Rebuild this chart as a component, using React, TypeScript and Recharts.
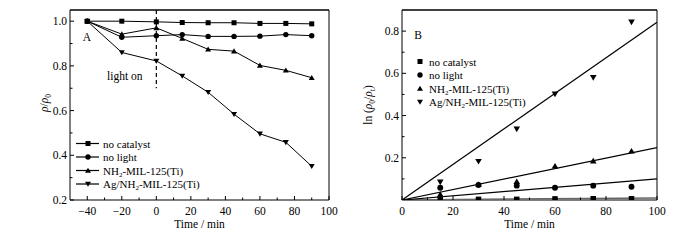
import React from 'react';
import {
  LineChart, Line, ComposedChart, Scatter, XAxis, YAxis, ReferenceLine, Legend, Label,
} from 'recharts';

// ---------- Data: panel A ----------
const TIME = [-40, -20, 0, 15, 30, 45, 60, 75, 90];
const A_NO_CATALYST = [1.0, 1.0, 0.997, 0.994, 0.993, 0.993, 0.99, 0.99, 0.988];
const A_NO_LIGHT = [1.0, 0.928, 0.935, 0.94, 0.932, 0.932, 0.933, 0.94, 0.935];
const A_NH2 = [1.0, 0.942, 0.97, 0.923, 0.874, 0.866, 0.802, 0.78, 0.747];
const A_AG = [1.0, 0.86, 0.822, 0.755, 0.682, 0.584, 0.496, 0.458, 0.351];

const A_X_MAJOR = [-40, -20, 0, 20, 40, 60, 80, 100];
const A_X_MINOR = [-30, -10, 10, 30, 50, 70, 90];
const A_Y_MAJOR = [0.2, 0.4, 0.6, 0.8, 1.0];
const A_Y_MINOR = [0.3, 0.5, 0.7, 0.9];

// ---------- Data: panel B ----------
const B_TIME = [15, 30, 45, 60, 75, 90];
const B_NO_CATALYST = [0.004, 0.003, 0.003, 0.005, 0.006, 0.006];
const B_NO_LIGHT = [0.058, 0.071, 0.068, 0.058, 0.068, 0.063];
const B_NH2 = [0.027, 0.074, 0.087, 0.161, 0.185, 0.232];
const B_AG = [0.085, 0.183, 0.336, 0.502, 0.58, 0.843];
const FIT_X = [0, 100];
const FIT_NO_CATALYST = [0, 0.01];
const FIT_NO_LIGHT = [0, 0.1];
const FIT_NH2 = [0, 0.248];
const FIT_AG = [0, 0.842];

const B_X_MAJOR = [0, 20, 40, 60, 80, 100];
const B_X_MINOR = [10, 30, 50, 70, 90];
const B_Y_MAJOR = [0.2, 0.4, 0.6, 0.8];
const B_Y_MINOR = [0.1, 0.3, 0.5, 0.7];

const FONT = '"Liberation Serif", "DejaVu Serif", serif';
const FS = 11;

const tableA = TIME.map((t, i) => ({
  t, nc: A_NO_CATALYST[i], nl: A_NO_LIGHT[i], nh: A_NH2[i], ag: A_AG[i],
}));
const pts = (ys: number[]) => B_TIME.map((t, i) => ({ t, v: ys[i] }));
const fit = (ys: number[]) => FIT_X.map((t, i) => ({ t, v: ys[i] }));

type Shape = 'square' | 'circle' | 'up' | 'down';

function Marker({ cx, cy, shape, s = 5 }: { cx: number; cy: number; shape: Shape; s?: number }) {
  if (cx == null || cy == null || isNaN(cx) || isNaN(cy)) return <g />;
  const h = s / 2;
  if (shape === 'square') return <rect x={cx - h} y={cy - h} width={s} height={s} fill="#000" />;
  if (shape === 'circle') return <circle cx={cx} cy={cy} r={h + 0.2} fill="#000" />;
  const t = s * 0.6;
  if (shape === 'up')
    return <polygon points={`${cx - t},${cy + t * 0.75} ${cx + t},${cy + t * 0.75} ${cx},${cy - t * 0.95}`} fill="#000" />;
  return <polygon points={`${cx - t},${cy - t * 0.75} ${cx + t},${cy - t * 0.75} ${cx},${cy + t * 0.95}`} fill="#000" />;
}

const fmtNum = (v: number) => {
  const s = Number.isInteger(v) ? String(v) : v.toFixed(1);
  return s.replace('-', '\u2212');
};

const makeXTick = (majors: number[]) => (props: any) => {
  const { x, y, payload } = props;
  const v = payload.value;
  const major = majors.some((m) => Math.abs(m - v) < 1e-9);
  return (
    <g key={`xt-${v}`}>
      <line x1={x} x2={x} y1={y} y2={y - (major ? 4 : 2.5)} stroke="#000" strokeWidth={1} />
      {major && (
        <text x={x} y={y + 15} textAnchor="middle" fontFamily={FONT} fontSize={11.5} fill="#000">
          {fmtNum(v)}
        </text>
      )}
    </g>
  );
};

const makeYTick = (majors: number[]) => (props: any) => {
  const { x, y, payload } = props;
  const v = payload.value;
  const major = majors.some((m) => Math.abs(m - v) < 1e-9);
  return (
    <g key={`yt-${v}`}>
      <line x1={x} x2={x + (major ? 4 : 2.5)} y1={y} y2={y} stroke="#000" strokeWidth={1} />
      {major && (
        <text x={x - 3} y={y + 4} textAnchor="end" fontFamily={FONT} fontSize={11.5} fill="#000">
          {v.toFixed(1)}
        </text>
      )}
    </g>
  );
};

const SERIES: { name: string; sub?: boolean; shape: Shape }[] = [
  { name: 'no catalyst', shape: 'square' },
  { name: 'no light', shape: 'circle' },
  { name: 'NH2', sub: true, shape: 'up' },
  { name: 'Ag/NH2', sub: true, shape: 'down' },
];

function SeriesLabel({ x, y, idx }: { x: number; y: number; idx: number }) {
  const s = SERIES[idx];
  if (!s.sub)
    return (
      <text x={x} y={y} fontFamily={FONT} fontSize={FS} fill="#000">{s.name}</text>
    );
  const prefix = s.name === 'NH2' ? 'NH' : 'Ag/NH';
  return (
    <text x={x} y={y} fontFamily={FONT} fontSize={FS} fill="#000">
      {prefix}
      <tspan fontSize={7} dy={2}>2</tspan>
      <tspan dy={-2}>-MIL-125(Ti)</tspan>
    </text>
  );
}

const legendA = () => (
  <svg width={350} height={240} style={{ position: 'absolute', left: 0, top: 0 }}>
    {SERIES.map((s, i) => {
      const cy = 143.5 + i * 13.5;
      return (
        <g key={s.name + i}>
          <line x1={76} x2={99} y1={cy} y2={cy} stroke="#000" strokeWidth={1.2} />
          <Marker cx={88} cy={cy} shape={s.shape} s={5} />
          <SeriesLabel x={103} y={cy + 4} idx={i} />
        </g>
      );
    })}
  </svg>
);

const legendB = () => (
  <svg width={350} height={240} style={{ position: 'absolute', left: 0, top: 0 }}>
    {SERIES.map((s, i) => {
      const cy = 61.5 + i * 13.5;
      return (
        <g key={s.name + i}>
          <Marker cx={70} cy={cy} shape={s.shape} s={5} />
          <SeriesLabel x={79} y={cy + 4} idx={i} />
        </g>
      );
    })}
  </svg>
);

const timeLabel = (props: any) => {
  const vb = props.viewBox;
  return (
    <text x={vb.x + vb.width / 2} y={vb.y + 28} textAnchor="middle" fontFamily={FONT} fontSize={11.5} fill="#000">
      Time / min
    </text>
  );
};

const yLabelA = () => {
  const cx = 48;
  const cy = 103;
  return (
    <text x={cx} y={cy} transform={`rotate(-90 ${cx} ${cy})`} textAnchor="middle" fontFamily={FONT} fontSize={11.5} fill="#000">
      <tspan fontStyle="italic">ρ</tspan>/<tspan fontStyle="italic">ρ</tspan>
      <tspan fontSize={7.5} dy={3}>0</tspan>
    </text>
  );
};

const yLabelB = () => {
  const cx = 22;
  const cy = 105;
  return (
    <text x={cx} y={cy} transform={`rotate(-90 ${cx} ${cy})`} textAnchor="middle" fontFamily={FONT} fontSize={11.5} fill="#000">
      ln (<tspan fontStyle="italic">ρ</tspan>
      <tspan fontSize={7.5} dy={3}>0</tspan>
      <tspan dy={-3}>/</tspan>
      <tspan fontStyle="italic">ρ</tspan>
      <tspan fontSize={7.5} dy={3}>t</tspan>
      <tspan dy={-3}>)</tspan>
    </text>
  );
};

const dotFor = (shape: Shape) => (p: any) => <Marker key={`${shape}-${p.index}`} cx={p.cx} cy={p.cy} shape={shape} s={5} />;
const scatterShape = (shape: Shape) => (p: any) => <Marker cx={p.cx} cy={p.cy} shape={shape} s={5.5} />;
const noShape = () => <g />;

export default function App() {
  return (
    <div style={{ position: 'absolute', left: 0, top: 0, width: 700, height: 240, background: '#fff', display: 'flex' }}>
      <div style={{ position: 'relative', width: 350, height: 240 }}>
        <LineChart width={350} height={240} data={tableA} margin={{ top: 10, right: 21, bottom: 0, left: 10 }}>
          <XAxis
            dataKey="t" type="number" domain={[-50, 100]} ticks={[...A_X_MAJOR, ...A_X_MINOR].sort((a, b) => a - b)}
            interval={0} height={40} tickSize={0} tickMargin={0} tickLine={false}
            axisLine={{ stroke: '#000', strokeWidth: 1 }} tick={makeXTick(A_X_MAJOR)} allowDataOverflow
          >
            <Label content={timeLabel} />
          </XAxis>
          <YAxis
            type="number" domain={[0.2, 1.05]} ticks={[...A_Y_MAJOR, ...A_Y_MINOR].sort((a, b) => a - b)}
            interval={0} width={60} tickSize={0} tickMargin={0} tickLine={false}
            axisLine={{ stroke: '#000', strokeWidth: 1 }} tick={makeYTick(A_Y_MAJOR)} allowDataOverflow
          >
            <Label content={yLabelA} />
          </YAxis>
          <ReferenceLine y={1.05} stroke="#000" strokeWidth={1.5} />
          <ReferenceLine x={100} stroke="#000" strokeWidth={1} />
          <ReferenceLine segment={[{ x: 0, y: 1.05 }, { x: 0, y: 0.7 }]} stroke="#000" strokeWidth={1.2} strokeDasharray="4 3" />
          <Line dataKey="nc" stroke="#000" strokeWidth={1} dot={dotFor('square')} isAnimationActive={false} />
          <Line dataKey="nl" stroke="#000" strokeWidth={1} dot={dotFor('circle')} isAnimationActive={false} />
          <Line dataKey="nh" stroke="#000" strokeWidth={1} dot={dotFor('up')} isAnimationActive={false} />
          <Line dataKey="ag" stroke="#000" strokeWidth={1} dot={dotFor('down')} isAnimationActive={false} />
          <Legend layout="horizontal" verticalAlign="middle" align="center" content={legendA}
            wrapperStyle={{ position: 'absolute', left: 0, top: 0, width: 350, height: 240, pointerEvents: 'none' }} />
        </LineChart>
        <svg width={350} height={240} style={{ position: 'absolute', left: 0, top: 0, pointerEvents: 'none' }}>
          <text x={87} y={41} textAnchor="middle" fontFamily={FONT} fontSize={11.5} fill="#000">A</text>
          <text x={107} y={80} fontFamily={FONT} fontSize={11.5} fill="#000">light on</text>
        </svg>
      </div>
      <div style={{ position: 'relative', width: 350, height: 240 }}>
        <ComposedChart width={350} height={240} margin={{ top: 10, right: 43, bottom: 0, left: 0 }}>
          <XAxis
            dataKey="t" type="number" domain={[0, 100]} ticks={[...B_X_MAJOR, ...B_X_MINOR].sort((a, b) => a - b)}
            interval={0} height={40} tickSize={0} tickMargin={0} tickLine={false}
            axisLine={{ stroke: '#000', strokeWidth: 1 }} tick={makeXTick(B_X_MAJOR)} allowDataOverflow
          >
            <Label content={timeLabel} />
          </XAxis>
          <YAxis
            dataKey="v" type="number" domain={[0, 0.9]} ticks={[...B_Y_MAJOR, ...B_Y_MINOR].sort((a, b) => a - b)}
            interval={0} width={52} tickSize={0} tickMargin={0} tickLine={false}
            axisLine={{ stroke: '#000', strokeWidth: 1 }} tick={makeYTick(B_Y_MAJOR)} allowDataOverflow
          >
            <Label content={yLabelB} />
          </YAxis>
          <ReferenceLine y={0.9} stroke="#000" strokeWidth={1.5} />
          <ReferenceLine x={100} stroke="#000" strokeWidth={1} />
          <Scatter data={fit(FIT_NO_CATALYST)} dataKey="v" line={{ stroke: '#666', strokeWidth: 1.5 }} shape={noShape} isAnimationActive={false} />
          <Scatter data={fit(FIT_NO_LIGHT)} dataKey="v" line={{ stroke: '#000', strokeWidth: 1.2 }} shape={noShape} isAnimationActive={false} />
          <Scatter data={fit(FIT_NH2)} dataKey="v" line={{ stroke: '#000', strokeWidth: 1.2 }} shape={noShape} isAnimationActive={false} />
          <Scatter data={fit(FIT_AG)} dataKey="v" line={{ stroke: '#000', strokeWidth: 1.2 }} shape={noShape} isAnimationActive={false} />
          <Scatter data={pts(B_NO_CATALYST)} dataKey="v" shape={scatterShape('square')} isAnimationActive={false} />
          <Scatter data={pts(B_NO_LIGHT)} dataKey="v" shape={scatterShape('circle')} isAnimationActive={false} />
          <Scatter data={pts(B_NH2)} dataKey="v" shape={scatterShape('up')} isAnimationActive={false} />
          <Scatter data={pts(B_AG)} dataKey="v" shape={scatterShape('down')} isAnimationActive={false} />
          <Legend layout="horizontal" verticalAlign="middle" align="center" content={legendB}
            wrapperStyle={{ position: 'absolute', left: 0, top: 0, width: 350, height: 240, pointerEvents: 'none' }} />
        </ComposedChart>
        <svg width={350} height={240} style={{ position: 'absolute', left: 0, top: 0, pointerEvents: 'none' }}>
          <text x={68} y={39} textAnchor="middle" fontFamily={FONT} fontSize={11.5} fill="#000">B</text>
        </svg>
      </div>
    </div>
  );
}
